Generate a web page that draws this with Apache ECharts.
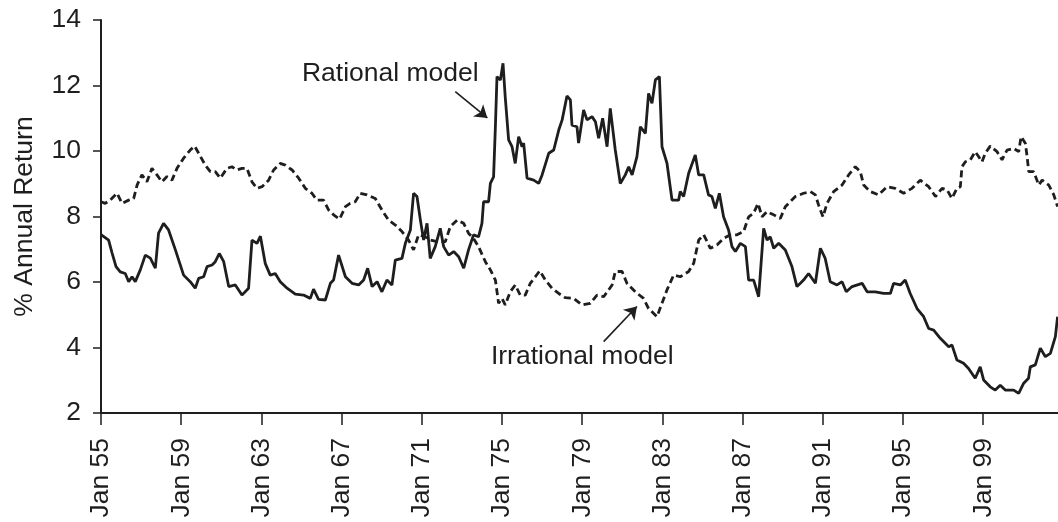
<!DOCTYPE html>
<html><head><meta charset="utf-8">
<script src="https://cdn.jsdelivr.net/npm/echarts@6/dist/echarts.min.js"></script>
<style>html,body{margin:0;padding:0;background:#fff}#c{width:1058px;height:522px}</style>
</head><body><div id="c"></div><script>
// years since Jan 1955
const rationalX = [0.00,0.38,0.55,0.75,0.96,1.21,1.38,1.55,1.71,1.96,2.21,2.46,2.71,2.87,3.12,3.37,3.71,4.12,4.45,4.70,4.87,5.12,5.29,5.54,5.70,5.90,6.12,6.37,6.70,7.03,7.36,7.53,7.78,7.95,8.19,8.44,8.69,8.94,9.28,9.69,10.10,10.44,10.60,10.85,11.19,11.44,11.60,11.85,12.19,12.52,12.85,13.10,13.30,13.52,13.77,14.01,14.26,14.51,14.68,15.01,15.18,15.43,15.59,15.76,15.93,16.09,16.26,16.42,16.67,16.92,17.09,17.34,17.59,17.84,18.09,18.33,18.58,18.83,19.00,19.08,19.33,19.42,19.58,19.67,19.75,19.92,20.05,20.16,20.33,20.50,20.66,20.83,21.00,21.08,21.25,21.58,21.83,22.00,22.33,22.58,22.83,23.00,23.24,23.41,23.49,23.74,23.82,24.07,24.24,24.49,24.66,24.82,25.02,25.24,25.40,25.65,25.90,26.15,26.32,26.49,26.73,26.90,27.15,27.31,27.48,27.65,27.85,27.98,28.23,28.48,28.81,28.89,29.06,29.31,29.64,29.81,30.06,30.30,30.47,30.64,30.84,31.05,31.30,31.47,31.64,31.89,32.14,32.30,32.55,32.80,33.05,33.22,33.38,33.55,33.80,34.13,34.46,34.71,34.88,35.04,35.29,35.63,35.88,36.12,36.37,36.71,36.96,37.17,37.46,37.96,38.21,38.62,39.03,39.37,39.53,39.87,40.11,40.36,40.70,41.03,41.28,41.53,41.86,42.28,42.44,42.69,43.02,43.27,43.60,43.85,44.02,44.35,44.60,44.85,45.10,45.52,45.77,46.02,46.26,46.35,46.60,46.85,47.10,47.35,47.60,47.71];
const rationalY = [7.45,7.28,6.89,6.47,6.31,6.26,6.01,6.16,6.01,6.37,6.82,6.73,6.42,7.49,7.79,7.59,6.98,6.21,6.01,5.81,6.11,6.16,6.47,6.52,6.62,6.87,6.62,5.86,5.91,5.60,5.81,7.28,7.18,7.40,6.57,6.21,6.26,6.01,5.81,5.63,5.60,5.50,5.78,5.47,5.45,5.96,6.06,6.82,6.16,5.96,5.91,6.06,6.42,5.86,6.01,5.70,6.06,5.91,6.67,6.72,7.18,7.59,8.71,8.61,7.89,7.28,7.79,6.72,7.08,7.64,7.08,6.82,6.93,6.77,6.42,6.98,7.44,7.38,7.79,8.45,8.45,9.01,9.21,10.74,12.27,12.17,12.68,11.66,10.34,10.13,9.62,10.44,10.13,10.24,9.17,9.11,9.01,9.27,9.93,10.03,10.64,10.95,11.68,11.56,10.79,10.74,10.24,11.25,10.95,11.05,10.89,10.39,11.00,10.13,11.30,10.03,9.01,9.27,9.52,9.27,9.83,10.74,10.54,11.76,11.46,12.17,12.27,10.13,9.62,8.50,8.50,8.76,8.61,9.32,9.88,9.27,9.27,8.66,8.61,8.25,8.71,7.99,7.59,7.08,6.93,7.18,7.08,6.06,6.06,5.55,7.64,7.28,7.38,7.03,7.18,6.98,6.47,5.86,5.96,6.06,6.26,5.96,7.03,6.72,6.01,5.91,6.01,5.70,5.86,5.96,5.70,5.70,5.65,5.65,5.96,5.91,6.06,5.65,5.19,4.94,4.58,4.53,4.28,4.02,4.08,3.62,3.52,3.36,3.06,3.41,3.01,2.80,2.70,2.85,2.70,2.70,2.60,2.91,3.06,3.41,3.47,3.98,3.72,3.82,4.33,4.94];
const irrationalX = [0.00,0.21,0.46,0.80,1.05,1.38,1.63,1.80,2.04,2.29,2.54,2.79,3.04,3.29,3.54,3.79,4.12,4.45,4.67,4.87,5.20,5.45,5.70,5.95,6.28,6.53,6.78,7.03,7.28,7.53,7.78,8.03,8.36,8.61,8.94,9.19,9.53,9.86,10.19,10.52,10.77,11.10,11.35,11.60,11.90,12.19,12.43,12.68,12.93,13.27,13.68,14.01,14.34,14.68,15.01,15.34,15.59,15.84,16.17,16.42,16.76,17.17,17.42,17.76,18.09,18.33,18.58,18.83,19.17,19.42,19.67,19.83,20.00,20.16,20.41,20.66,20.91,21.16,21.41,21.66,21.88,22.16,22.49,22.83,23.16,23.57,23.99,24.40,24.74,25.07,25.32,25.49,25.65,25.99,26.23,26.65,27.06,27.31,27.73,27.98,28.23,28.56,28.89,29.31,29.56,29.81,30.06,30.39,30.72,31.05,31.39,31.72,32.05,32.30,32.55,32.77,32.97,33.22,33.55,33.88,34.13,34.63,35.04,35.38,35.63,35.79,36.01,36.21,36.54,36.96,37.29,37.62,37.87,38.04,38.37,38.78,39.20,39.61,40.03,40.45,40.86,41.28,41.62,41.95,42.20,42.44,42.69,42.86,42.94,43.11,43.36,43.60,43.77,43.94,44.10,44.35,44.69,44.94,45.19,45.52,45.77,45.89,46.10,46.19,46.27,46.52,46.77,46.94,47.27,47.52,47.71];
const irrationalY = [8.45,8.40,8.50,8.71,8.40,8.50,8.55,8.96,9.27,9.06,9.47,9.27,9.06,9.22,9.11,9.47,9.78,10.03,10.15,9.93,9.57,9.37,9.37,9.17,9.47,9.52,9.42,9.47,9.47,9.06,8.86,8.91,9.11,9.42,9.62,9.57,9.42,9.17,8.86,8.71,8.50,8.50,8.20,8.05,7.92,8.30,8.40,8.45,8.71,8.66,8.55,8.20,7.89,7.74,7.54,7.28,6.98,7.44,7.38,7.28,7.23,7.23,7.69,7.89,7.79,7.49,7.33,7.08,6.62,6.37,6.06,5.35,5.50,5.30,5.70,5.91,5.60,5.60,5.96,6.16,6.34,6.06,5.81,5.65,5.52,5.50,5.30,5.35,5.60,5.55,5.76,5.91,6.32,6.32,5.96,5.70,5.50,5.19,4.94,5.35,5.76,6.21,6.16,6.32,6.57,7.28,7.44,7.03,7.13,7.33,7.44,7.44,7.54,7.99,8.10,8.40,7.99,8.15,8.05,7.94,8.30,8.61,8.71,8.76,8.66,8.35,7.99,8.40,8.76,8.96,9.27,9.52,9.37,8.96,8.76,8.66,8.91,8.86,8.71,8.86,9.11,8.91,8.61,8.86,8.81,8.55,8.86,8.91,9.52,9.67,9.73,9.98,9.83,9.67,9.93,10.15,9.98,9.73,10.03,10.08,9.98,10.44,10.24,9.83,9.37,9.37,8.96,9.11,8.96,8.66,8.30];
const firstYear = 55;
const yMin = 2, yMax = 14, yStep = 2;
const xStep = 4, lastTick = 44;
const seriesNames = ['Rational model', 'Irrational model'];
// annotation anchors in data coordinates [years since 1955, %]
const rationalLabelAt = [14.43, 12.35];
const rationalArrow = [[17.67, 11.81], [19.27, 11.01]];
const irrationalLabelAt = [24.0, 3.71];
const irrationalArrow = [[25.07, 4.18], [26.73, 5.25]];

const zip = (xs, ys) => xs.map((x, i) => [x, ys[i]]);
const ink = '#1e1e1e';
const font = 'Liberation Sans, Arial, Helvetica, sans-serif';
const fs = 26.5;

const chart = echarts.init(document.getElementById('c'), null, {renderer: 'canvas'});
const arrowLine = (pts) => ({
  silent: true, symbol: ['none', 'arrow'], symbolSize: 12,
  label: {show: false},
  itemStyle: {color: ink},
  lineStyle: {type: 'solid', width: 1.6, color: ink},
  emphasis: {disabled: true},
  data: [[{coord: pts[0]}, {coord: pts[1]}]]
});
const textPoint = (name, at) => ({
  silent: true, symbol: 'circle', symbolSize: 0,
  label: {show: true, position: 'inside', formatter: '{b}', color: ink, fontSize: fs, fontFamily: font},
  data: [{name: name, coord: at}]
});
chart.setOption({
  animation: false,
  backgroundColor: '#fff',
  grid: {left: 101, right: -3, top: 20, bottom: 109, containLabel: false, outerBoundsMode: 'none'},
  xAxis: {
    type: 'value', min: 0, max: 47.88, interval: xStep,
    axisLine: {show: true, lineStyle: {color: ink, width: 2}},
    axisTick: {show: true, length: 12, lineStyle: {color: ink, width: 1.5}},
    splitLine: {show: false},
    axisLabel: {
      rotate: 90, margin: 25, color: ink, fontSize: fs, fontFamily: font,
      showMaxLabel: false,
      formatter: v => (v % xStep === 0 && v <= lastTick) ? 'Jan ' + String(firstYear + v).padStart(2, '0') : ''
    }
  },
  yAxis: {
    type: 'value', min: yMin, max: yMax, interval: yStep,
    name: '% Annual Return', nameLocation: 'middle', nameGap: 63,
    nameTextStyle: {color: ink, fontSize: fs, fontFamily: font},
    axisLine: {show: true, lineStyle: {color: ink, width: 2}},
    axisTick: {show: true, length: 8, lineStyle: {color: ink, width: 1.5}},
    splitLine: {show: false},
    axisLabel: {margin: 20, color: ink, fontSize: fs, fontFamily: font}
  },
  series: [
    {
      name: seriesNames[0], type: 'line', data: zip(rationalX, rationalY),
      showSymbol: false, symbol: 'none',
      lineStyle: {color: ink, width: 2.8, type: 'solid'},
      markLine: arrowLine(rationalArrow),
      markPoint: textPoint(seriesNames[0], rationalLabelAt)
    },
    {
      name: seriesNames[1], type: 'line', data: zip(irrationalX, irrationalY),
      showSymbol: false, symbol: 'none',
      lineStyle: {color: ink, width: 2.8, type: [7, 4]},
      markLine: arrowLine(irrationalArrow),
      markPoint: textPoint(seriesNames[1], irrationalLabelAt)
    }
  ]
});
</script></body></html>
